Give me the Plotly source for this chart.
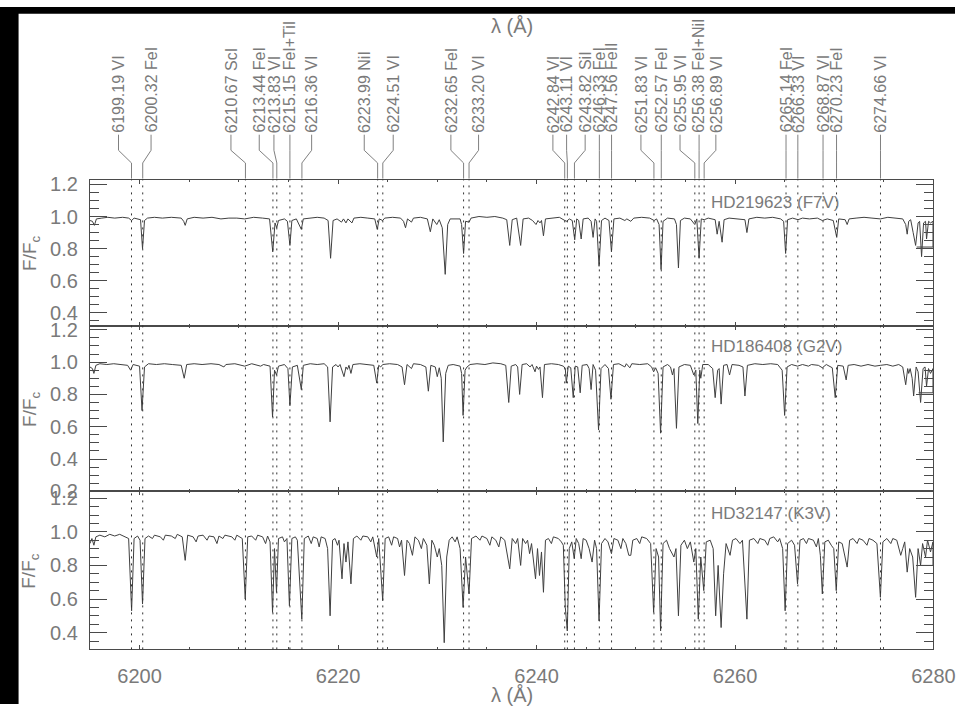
import plotly.graph_objects as go

W, H = 977, 715

# ---------------- data ----------------
line_wl = [6199.19, 6200.32, 6210.67, 6213.44, 6213.83, 6215.15, 6216.36, 6223.99,
           6224.51, 6232.65, 6233.20, 6242.84, 6243.11, 6243.82, 6246.33, 6247.56,
           6251.83, 6252.57, 6255.95, 6256.38, 6256.89, 6265.14, 6266.33, 6268.87,
           6270.23, 6274.66]
line_ion = ["VI", "FeI", "ScI", "FeI", "VI", "FeI+TiI", "VI", "NiI",
            "VI", "FeI", "VI", "VI", "VI", "SiI", "FeI", "FeII",
            "VI", "FeI", "VI", "FeI+NiI", "VI", "FeI", "VI", "VI",
            "FeI", "VI"]
# where each rotated label sits (wavelength units along the top)
label_wl = [6197.88, 6201.16, 6209.21, 6212.06, 6213.54, 6215.15, 6217.34, 6222.64,
            6225.56, 6231.37, 6234.16, 6241.65, 6243.03, 6244.90, 6246.33, 6247.56,
            6250.52, 6252.57, 6254.46, 6256.38, 6258.07, 6265.14, 6266.33, 6268.87,
            6270.23, 6274.66]

star_names = ["HD219623 (F7V)", "HD186408 (G2V)", "HD32147 (K3V)"]

f7v_points = [
    (6195.0, 0.975), (6195.25, 0.97), (6195.45, 0.945), (6195.65, 0.985), (6196.2, 0.99),
    (6196.8, 0.995), (6197.5, 0.99), (6198.3, 0.995), (6198.9, 0.99), (6199.2, 0.975),
    (6199.45, 0.99), (6200.1, 0.98), (6200.3, 0.80), (6200.5, 0.975), (6200.8, 0.99),
    (6201.5, 0.995), (6202.3, 0.99), (6203.2, 0.995), (6204.2, 0.99), (6204.45, 0.97),
    (6204.6, 0.945), (6204.8, 0.985), (6205.5, 0.995), (6206.4, 0.99), (6207.3, 0.995),
    (6208.2, 0.985), (6209.0, 0.99), (6209.8, 0.99), (6210.6, 0.985), (6211.5, 0.995),
    (6212.4, 0.99), (6213.1, 0.985), (6213.42, 0.78), (6213.65, 0.96), (6213.82, 0.93),
    (6214.0, 0.975), (6214.6, 0.985), (6214.9, 0.97), (6215.15, 0.82), (6215.35, 0.975),
    (6215.8, 0.985), (6216.3, 0.92), (6216.5, 0.985), (6217.2, 0.99), (6217.9, 0.995),
    (6218.6, 0.99), (6219.0, 0.975), (6219.25, 0.74), (6219.5, 0.975), (6219.9, 0.985),
    (6220.35, 0.965), (6220.55, 0.985), (6220.8, 0.96), (6221.0, 0.985), (6221.15, 0.975),
    (6221.4, 0.96), (6221.6, 0.99), (6222.3, 0.995), (6223.0, 0.99), (6223.7, 0.985),
    (6223.95, 0.92), (6224.15, 0.985), (6224.5, 0.975), (6224.7, 0.99), (6225.5, 0.995),
    (6226.3, 0.99), (6226.6, 0.97), (6226.8, 0.93), (6227.0, 0.985), (6227.4, 0.965),
    (6227.6, 0.99), (6228.3, 0.995), (6229.0, 0.985), (6229.3, 0.905), (6229.55, 0.985),
    (6229.95, 0.95), (6230.2, 0.98), (6230.5, 0.93), (6230.8, 0.64), (6231.05, 0.95),
    (6231.3, 0.985), (6232.3, 0.985), (6232.45, 0.95), (6232.65, 0.77), (6232.85, 0.97),
    (6233.2, 0.965), (6233.4, 0.99), (6234.2, 1.0), (6235.0, 0.995), (6235.8, 1.0),
    (6236.6, 0.99), (6237.0, 0.98), (6237.3, 0.82), (6237.55, 0.98), (6238.0, 0.99),
    (6238.4, 0.82), (6238.65, 0.985), (6239.2, 0.99), (6239.6, 0.975), (6239.95, 0.95),
    (6240.15, 0.975), (6240.35, 0.96), (6240.5, 0.975), (6240.7, 0.88), (6240.9, 0.985),
    (6241.6, 0.99), (6242.3, 0.995), (6242.85, 0.975), (6243.05, 0.97), (6243.3, 0.985),
    (6243.6, 0.975), (6243.85, 0.855), (6244.05, 0.985), (6244.25, 0.975), (6244.5, 0.86),
    (6244.7, 0.985), (6245.2, 0.99), (6245.5, 0.97), (6245.7, 0.87), (6245.9, 0.985),
    (6246.05, 0.97), (6246.3, 0.69), (6246.55, 0.975), (6246.9, 0.99), (6247.3, 0.975),
    (6247.55, 0.78), (6247.8, 0.985), (6248.4, 0.99), (6248.9, 0.975), (6249.1, 0.985),
    (6249.5, 0.97), (6249.8, 0.99), (6250.6, 0.995), (6251.4, 0.99), (6251.85, 0.975),
    (6252.1, 0.985), (6252.35, 0.95), (6252.55, 0.67), (6252.75, 0.97), (6253.2, 0.99),
    (6253.9, 0.985), (6254.1, 0.95), (6254.3, 0.68), (6254.5, 0.975), (6254.9, 0.99),
    (6255.5, 0.985), (6255.95, 0.95), (6256.15, 0.985), (6256.38, 0.74), (6256.6, 0.985),
    (6256.9, 0.98), (6257.3, 0.99), (6258.0, 0.98), (6258.2, 0.89), (6258.4, 0.97),
    (6258.7, 0.84), (6258.9, 0.98), (6259.4, 0.99), (6260.3, 0.985), (6261.0, 0.98),
    (6261.2, 0.90), (6261.4, 0.985), (6262.2, 0.995), (6263.0, 0.99), (6263.8, 0.995),
    (6264.6, 0.985), (6264.9, 0.97), (6265.1, 0.77), (6265.3, 0.98), (6265.8, 0.99),
    (6266.35, 0.98), (6266.8, 0.99), (6267.5, 0.985), (6268.3, 0.99), (6268.8, 0.975),
    (6269.3, 0.985), (6269.9, 0.975), (6270.25, 0.87), (6270.45, 0.985), (6271.1, 0.98),
    (6271.3, 0.95), (6271.5, 0.985), (6272.2, 0.99), (6273.0, 0.995), (6273.8, 0.99),
    (6274.65, 0.985), (6275.4, 0.995), (6276.2, 0.99), (6276.9, 0.985), (6277.2, 0.95),
    (6277.35, 0.89), (6277.5, 0.97), (6277.7, 0.98), (6277.95, 0.90), (6278.2, 0.82),
    (6278.45, 0.96), (6278.6, 0.97), (6278.8, 0.75), (6279.0, 0.96), (6279.2, 0.97),
    (6279.3, 0.86), (6279.5, 0.97), (6279.7, 0.96), (6279.95, 0.97), (6279.95, 0.81),
    (6278.3, 0.81),
]

g2v_points = [
    (6195.0, 0.97), (6195.25, 0.96), (6195.4, 0.93), (6195.6, 0.98), (6196.0, 0.99),
    (6196.7, 0.985), (6197.4, 0.99), (6198.2, 0.985), (6198.8, 0.98), (6199.1, 0.95),
    (6199.35, 0.985), (6200.0, 0.975), (6200.25, 0.70), (6200.5, 0.97), (6200.9, 0.99),
    (6201.7, 0.985), (6202.5, 0.99), (6203.3, 0.985), (6204.2, 0.98), (6204.5, 0.90),
    (6204.75, 0.985), (6205.5, 0.99), (6206.3, 0.985), (6207.2, 0.99), (6208.0, 0.985),
    (6208.5, 0.97), (6208.7, 0.985), (6209.6, 0.99), (6210.6, 0.975), (6211.3, 0.99),
    (6212.2, 0.975), (6212.5, 0.985), (6213.15, 0.975), (6213.4, 0.66), (6213.6, 0.95),
    (6213.8, 0.92), (6214.0, 0.975), (6214.6, 0.985), (6214.95, 0.96), (6215.15, 0.73),
    (6215.4, 0.97), (6215.9, 0.98), (6216.3, 0.83), (6216.5, 0.98), (6217.2, 0.99),
    (6217.9, 0.985), (6218.6, 0.99), (6218.95, 0.97), (6219.2, 0.63), (6219.45, 0.97),
    (6219.8, 0.985), (6220.0, 0.97), (6220.2, 0.985), (6220.6, 0.91), (6220.8, 0.97),
    (6220.95, 0.955), (6221.1, 0.98), (6221.3, 0.93), (6221.5, 0.985), (6222.2, 0.99),
    (6222.9, 0.985), (6223.6, 0.98), (6223.9, 0.87), (6224.1, 0.98), (6224.3, 0.97),
    (6224.5, 0.985), (6225.2, 0.99), (6226.0, 0.985), (6226.45, 0.97), (6226.7, 0.86),
    (6226.95, 0.985), (6227.4, 0.96), (6227.6, 0.99), (6228.3, 0.985), (6228.85, 0.97),
    (6229.1, 0.82), (6229.35, 0.98), (6229.8, 0.97), (6230.0, 0.91), (6230.2, 0.965),
    (6230.4, 0.90), (6230.6, 0.506), (6230.85, 0.93), (6231.1, 0.98), (6231.6, 0.985),
    (6232.3, 0.975), (6232.45, 0.93), (6232.6, 0.67), (6232.8, 0.95), (6233.0, 0.97),
    (6233.3, 0.985), (6234.0, 0.99), (6234.8, 0.985), (6235.6, 0.995), (6236.4, 0.99),
    (6236.9, 0.98), (6237.2, 0.75), (6237.45, 0.975), (6237.9, 0.985), (6238.1, 0.97),
    (6238.3, 0.80), (6238.55, 0.985), (6239.0, 0.99), (6239.35, 0.97), (6239.55, 0.985),
    (6239.85, 0.94), (6240.0, 0.975), (6240.2, 0.955), (6240.35, 0.97), (6240.6, 0.78),
    (6240.8, 0.985), (6241.5, 0.99), (6242.2, 0.985), (6242.7, 0.975), (6242.9, 0.96),
    (6243.0, 0.87), (6243.2, 0.975), (6243.45, 0.965), (6243.7, 0.78), (6243.9, 0.975),
    (6244.15, 0.97), (6244.4, 0.81), (6244.6, 0.98), (6245.1, 0.985), (6245.3, 0.96),
    (6245.5, 0.83), (6245.7, 0.985), (6245.95, 0.95), (6246.25, 0.58), (6246.5, 0.96),
    (6246.9, 0.985), (6247.25, 0.96), (6247.5, 0.77), (6247.75, 0.985), (6248.3, 0.99),
    (6248.9, 0.97), (6249.05, 0.99), (6249.4, 0.965), (6249.6, 0.99), (6250.4, 0.985),
    (6251.2, 0.99), (6251.6, 0.97), (6251.8, 0.94), (6252.0, 0.965), (6252.25, 0.93),
    (6252.5, 0.56), (6252.75, 0.97), (6253.2, 0.985), (6253.5, 0.97), (6253.7, 0.92),
    (6253.85, 0.96), (6254.1, 0.59), (6254.35, 0.97), (6254.9, 0.985), (6255.5, 0.98),
    (6255.85, 0.92), (6256.05, 0.95), (6256.25, 0.62), (6256.45, 0.95), (6256.55, 0.90),
    (6256.75, 0.985), (6257.3, 0.985), (6257.75, 0.96), (6258.0, 0.78), (6258.25, 0.95),
    (6258.4, 0.96), (6258.6, 0.74), (6258.85, 0.98), (6259.2, 0.985), (6259.45, 0.92),
    (6259.7, 0.985), (6260.4, 0.98), (6260.8, 0.97), (6261.0, 0.79), (6261.25, 0.98),
    (6262.0, 0.99), (6262.8, 0.985), (6263.6, 0.99), (6264.3, 0.985), (6264.75, 0.95),
    (6265.0, 0.67), (6265.25, 0.97), (6265.7, 0.985), (6266.3, 0.975), (6266.8, 0.985),
    (6267.4, 0.975), (6267.7, 0.985), (6268.4, 0.98), (6268.8, 0.965), (6269.2, 0.985),
    (6269.8, 0.965), (6270.1, 0.78), (6270.35, 0.98), (6270.9, 0.975), (6271.2, 0.89),
    (6271.4, 0.98), (6272.0, 0.985), (6272.7, 0.975), (6273.4, 0.985), (6274.1, 0.975),
    (6274.65, 0.98), (6275.3, 0.985), (6275.9, 0.975), (6276.5, 0.985), (6276.9, 0.97),
    (6277.2, 0.86), (6277.4, 0.96), (6277.5, 0.93), (6277.65, 0.96), (6277.85, 0.90),
    (6278.0, 0.79), (6278.25, 0.97), (6278.45, 0.94), (6278.7, 0.75), (6278.95, 0.96),
    (6279.15, 0.97), (6279.3, 0.85), (6279.5, 0.96), (6279.7, 0.93), (6279.95, 0.96),
    (6279.95, 0.81), (6278.5, 0.81),
]

k3v_points = [
    (6195.0, 0.93), (6195.2, 0.96), (6195.4, 0.92), (6195.6, 0.97), (6196.0, 0.98),
    (6196.5, 0.97), (6197.0, 0.985), (6197.5, 0.975), (6198.0, 0.985), (6198.5, 0.97),
    (6198.9, 0.96), (6199.2, 0.53), (6199.45, 0.96), (6199.8, 0.975), (6200.05, 0.95),
    (6200.3, 0.57), (6200.55, 0.96), (6200.9, 0.975), (6201.3, 0.96), (6201.5, 0.98),
    (6202.1, 0.97), (6202.4, 0.95), (6202.6, 0.98), (6203.2, 0.975), (6203.6, 0.96),
    (6203.8, 0.985), (6204.3, 0.97), (6204.6, 0.83), (6204.85, 0.98), (6205.4, 0.97),
    (6205.7, 0.94), (6205.9, 0.975), (6206.4, 0.98), (6206.8, 0.95), (6207.0, 0.975),
    (6207.5, 0.97), (6207.8, 0.93), (6208.0, 0.975), (6208.4, 0.96), (6208.6, 0.98),
    (6209.3, 0.97), (6209.6, 0.95), (6209.8, 0.98), (6210.35, 0.96), (6210.65, 0.60),
    (6210.9, 0.97), (6211.3, 0.975), (6211.7, 0.95), (6211.9, 0.98), (6212.4, 0.97),
    (6212.7, 0.93), (6212.9, 0.975), (6213.15, 0.94), (6213.4, 0.52), (6213.6, 0.90),
    (6213.8, 0.64), (6214.0, 0.96), (6214.4, 0.97), (6214.6, 0.94), (6214.85, 0.96),
    (6215.1, 0.56), (6215.35, 0.96), (6215.7, 0.97), (6215.9, 0.95), (6216.35, 0.48),
    (6216.6, 0.96), (6217.0, 0.975), (6217.3, 0.93), (6217.5, 0.97), (6217.9, 0.96),
    (6218.1, 0.91), (6218.3, 0.97), (6218.7, 0.96), (6218.95, 0.90), (6219.2, 0.50),
    (6219.45, 0.95), (6219.7, 0.96), (6219.95, 0.92), (6220.1, 0.95), (6220.4, 0.72),
    (6220.6, 0.93), (6220.8, 0.82), (6221.0, 0.94), (6221.3, 0.69), (6221.55, 0.96),
    (6221.9, 0.975), (6222.3, 0.95), (6222.5, 0.975), (6223.0, 0.97), (6223.3, 0.94),
    (6223.5, 0.97), (6223.9, 0.85), (6224.1, 0.96), (6224.5, 0.59), (6224.75, 0.96),
    (6225.1, 0.97), (6225.4, 0.92), (6225.6, 0.97), (6226.0, 0.96), (6226.2, 0.91),
    (6226.4, 0.95), (6226.7, 0.74), (6226.95, 0.95), (6227.2, 0.93), (6227.5, 0.86),
    (6227.75, 0.97), (6228.1, 0.95), (6228.4, 0.90), (6228.6, 0.96), (6228.95, 0.92),
    (6229.2, 0.69), (6229.45, 0.95), (6229.7, 0.92), (6230.0, 0.85), (6230.2, 0.90),
    (6230.45, 0.80), (6230.7, 0.34), (6230.95, 0.85), (6231.2, 0.95), (6231.5, 0.97),
    (6231.8, 0.94), (6232.0, 0.97), (6232.3, 0.90), (6232.6, 0.55), (6232.85, 0.85),
    (6233.2, 0.63), (6233.45, 0.96), (6233.9, 0.975), (6234.3, 0.95), (6234.5, 0.975),
    (6235.0, 0.96), (6235.3, 0.92), (6235.5, 0.97), (6235.9, 0.95), (6236.2, 0.91),
    (6236.4, 0.97), (6236.8, 0.95), (6237.3, 0.78), (6237.55, 0.96), (6237.9, 0.93),
    (6238.1, 0.96), (6238.4, 0.80), (6238.6, 0.96), (6238.9, 0.93), (6239.1, 0.95),
    (6239.3, 0.87), (6239.5, 0.93), (6239.9, 0.72), (6240.1, 0.90), (6240.3, 0.74),
    (6240.5, 0.88), (6240.7, 0.64), (6240.9, 0.95), (6241.2, 0.96), (6241.5, 0.93),
    (6241.7, 0.97), (6242.2, 0.96), (6242.5, 0.94), (6242.7, 0.92), (6242.9, 0.55),
    (6243.1, 0.41), (6243.3, 0.90), (6243.55, 0.94), (6243.8, 0.84), (6244.0, 0.96),
    (6244.25, 0.93), (6244.5, 0.84), (6244.7, 0.96), (6245.0, 0.95), (6245.3, 0.90),
    (6245.6, 0.82), (6245.85, 0.95), (6246.05, 0.90), (6246.3, 0.47), (6246.55, 0.93),
    (6246.9, 0.96), (6247.2, 0.94), (6247.55, 0.87), (6247.8, 0.96), (6248.2, 0.95),
    (6248.5, 0.90), (6248.7, 0.96), (6249.0, 0.93), (6249.3, 0.86), (6249.5, 0.86),
    (6249.7, 0.95), (6250.1, 0.96), (6250.4, 0.93), (6250.6, 0.97), (6251.1, 0.96),
    (6251.5, 0.93), (6251.8, 0.52), (6252.05, 0.90), (6252.3, 0.85), (6252.5, 0.41),
    (6252.75, 0.93), (6253.1, 0.95), (6253.4, 0.90), (6253.85, 0.85), (6254.05, 0.90),
    (6254.3, 0.50), (6254.55, 0.92), (6254.9, 0.95), (6255.2, 0.90), (6255.5, 0.94),
    (6255.85, 0.82), (6256.05, 0.90), (6256.3, 0.48), (6256.55, 0.85), (6256.85, 0.65),
    (6257.1, 0.94), (6257.5, 0.95), (6257.8, 0.90), (6258.05, 0.50), (6258.3, 0.80),
    (6258.6, 0.43), (6258.85, 0.75), (6259.1, 0.93), (6259.5, 0.86), (6259.75, 0.95),
    (6260.1, 0.96), (6260.5, 0.93), (6260.75, 0.95), (6261.2, 0.48), (6261.45, 0.95),
    (6261.9, 0.96), (6262.3, 0.93), (6262.5, 0.96), (6263.0, 0.95), (6263.3, 0.92),
    (6263.5, 0.96), (6263.9, 0.97), (6264.3, 0.94), (6264.5, 0.96), (6264.8, 0.90),
    (6265.05, 0.53), (6265.3, 0.93), (6265.7, 0.95), (6266.0, 0.92), (6266.3, 0.69),
    (6266.55, 0.95), (6266.9, 0.96), (6267.2, 0.93), (6267.4, 0.96), (6267.9, 0.95),
    (6268.2, 0.91), (6268.4, 0.96), (6268.6, 0.86), (6268.8, 0.63), (6269.05, 0.94),
    (6269.4, 0.95), (6269.7, 0.92), (6269.95, 0.90), (6270.2, 0.65), (6270.45, 0.94),
    (6270.8, 0.93), (6271.3, 0.79), (6271.55, 0.95), (6271.9, 0.96), (6272.3, 0.93),
    (6272.5, 0.96), (6272.9, 0.95), (6273.3, 0.92), (6273.5, 0.96), (6273.9, 0.95),
    (6274.3, 0.93), (6274.65, 0.61), (6274.9, 0.94), (6275.3, 0.96), (6275.7, 0.93),
    (6275.9, 0.96), (6276.3, 0.95), (6276.7, 0.86), (6276.9, 0.90), (6277.1, 0.94),
    (6277.35, 0.76), (6277.6, 0.90), (6277.9, 0.85), (6278.2, 0.61), (6278.45, 0.90),
    (6278.7, 0.80), (6278.9, 0.93), (6279.2, 0.85), (6279.4, 0.95), (6279.7, 0.88),
    (6279.95, 0.94), (6279.95, 0.80), (6278.8, 0.80),
]

# ---------------- style / layout ----------------
FONT = "Liberation Sans"
TXT = "#7a7a7a"
AXC = "#4a4a4a"
X_RANGE = [6195, 6280]
y_ranges = [[0.32, 1.23], [0.199, 1.225], [0.30, 1.24]]

def py(px):  # pixel row -> paper fraction
    return 1 - px / H

x_dom = [92 / W, 955 / W]
y_doms = [[py(327), py(177)], [py(497), py(327)], [py(659), py(497)]]

fig = go.Figure()
spectra = [f7v_points, g2v_points, k3v_points]
for i, pts in enumerate(spectra):
    sfx = "" if i == 0 else str(i + 1)
    fig.add_trace(go.Scatter(
        x=[p[0] for p in pts], y=[p[1] for p in pts], mode="lines",
        line=dict(color="#404040", width=1), xaxis="x" + sfx, yaxis="y" + sfx,
        showlegend=False, hoverinfo="skip"))

layout = dict(width=W, height=H, margin=dict(l=0, r=0, t=0, b=0),
              paper_bgcolor="white", plot_bgcolor="white", showlegend=False)

for i in range(3):
    sfx = "" if i == 0 else str(i + 1)
    layout["xaxis" + sfx] = dict(
        domain=x_dom, range=X_RANGE, anchor="y" + sfx, showline=True, linecolor=AXC,
        linewidth=1, mirror="allticks", ticks="inside", ticklen=4, tickcolor=AXC,
        tick0=6200, dtick=20, showgrid=False, zeroline=False,
        showticklabels=(i == 2), ticklabelstandoff=9, ticklabeloverflow="allow",
        tickfont=dict(family=FONT, size=20, color=TXT),
        minor=dict(ticks="inside", ticklen=2, dtick=5, tick0=6195, tickcolor=AXC, showgrid=False),
        **({} if i == 0 else {"matches": "x"}))
    layout["yaxis" + sfx] = dict(
        domain=y_doms[i], range=y_ranges[i], anchor="x" + sfx, showline=True,
        linecolor=AXC, linewidth=1, mirror="allticks", ticks="inside", ticklen=17,
        tickcolor=AXC, tick0=0, dtick=0.2, tickformat=".1f", showgrid=False,
        zeroline=False, ticklabelstandoff=7, ticklabeloverflow="allow",
        tickfont=dict(family=FONT, size=20, color=TXT),
        minor=dict(ticks="inside", ticklen=9, dtick=0.05, tick0=0, tickcolor=AXC, showgrid=False))

shapes = []
# black borders of the original screenshot
shapes.append(dict(type="rect", xref="paper", yref="paper", x0=0, x1=19 / W, y0=0, y1=1,
                   fillcolor="black", line=dict(width=0)))
shapes.append(dict(type="rect", xref="paper", yref="paper", x0=0, x1=1, y0=py(7), y1=1,
                   fillcolor="black", line=dict(width=0)))

annotations = []
for wl, lab, ion in zip(line_wl, label_wl, line_ion):
    # dotted marker through the three panels
    shapes.append(dict(type="line", xref="x", yref="paper", x0=wl, x1=wl,
                       y0=y_doms[2][0], y1=y_doms[0][1],
                       line=dict(color="#333333", width=1, dash="2px,5px")))
    # connector from label to line
    shapes.append(dict(type="path", xref="x", yref="paper",
                       path=f"M {lab},{py(131)} L {lab},{py(147)} L {wl},{py(160)} L {wl},{py(176)}",
                       line=dict(color="#808080", width=1)))
    annotations.append(dict(x=lab, y=py(130), xref="x", yref="paper", text=f"{wl:.2f} {ion}",
                            textangle=-90, showarrow=False, xanchor="center", yanchor="bottom",
                            font=dict(family=FONT, size=16, color=TXT), borderpad=0))

for i, name in enumerate(star_names):
    sfx = "" if i == 0 else str(i + 1)
    annotations.append(dict(x=6257.5, y=[1.09, 1.095, 1.11][i], xref="x" + sfx, yref="y" + sfx,
                            text=name, showarrow=False, xanchor="left", yanchor="middle",
                            font=dict(family=FONT, size=17, color=TXT), borderpad=0))
    annotations.append(dict(x=31 / W, y=sum(y_doms[i]) / 2, xref="paper", yref="paper",
                            text="F/F<sub>c</sub>", textangle=-90, showarrow=False,
                            xanchor="center", yanchor="middle",
                            font=dict(family=FONT, size=19, color=TXT), borderpad=0))

annotations.append(dict(x=523.5 / W, y=py(20), xref="paper", yref="paper", text="λ (Å)",
                        showarrow=False, xanchor="center", yanchor="middle",
                        font=dict(family=FONT, size=20, color=TXT)))
annotations.append(dict(x=523.5 / W, y=py(706), xref="paper", yref="paper", text="λ (Å)",
                        showarrow=False, xanchor="center", yanchor="middle",
                        font=dict(family=FONT, size=20, color=TXT), borderpad=0))

layout["shapes"] = shapes
layout["annotations"] = annotations
fig.update_layout(**layout)
fig.write_html("out.html")
